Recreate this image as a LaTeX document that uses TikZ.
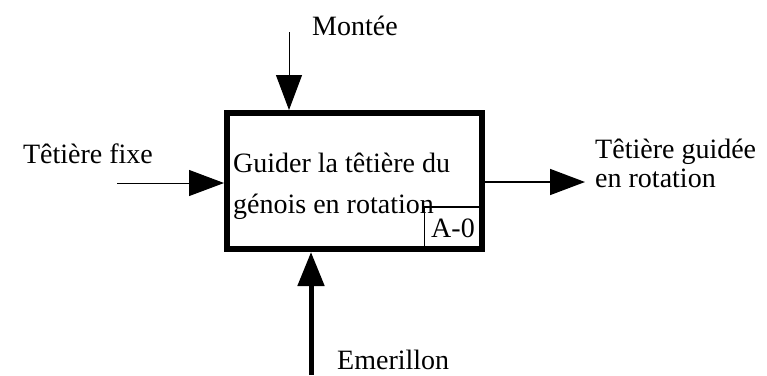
\documentclass[tikz,border=0pt]{standalone}
\usepackage{fontspec}
\setmainfont{Liberation Serif}
\usetikzlibrary{arrows.meta}
\tikzset{
  lbl/.style={inner sep=0pt, font=\fontsize{28}{34}\selectfont},
  mainbox/.style={draw=black, line width=6pt, minimum width=255pt, minimum height=136pt, inner sep=0pt},
  refbox/.style={draw=black, line width=1.2pt, minimum width=57pt, minimum height=42pt, inner sep=0pt, font=\fontsize{28}{34}\selectfont},
  headtip/.style={-{Triangle[length=35pt,width=26pt]}, draw=black, fill=black!85},
}
\begin{document}
\begin{tikzpicture}[x=1pt,y=-1pt]
\useasboundingbox (0,0) rectangle (767,375);
% A-0 reference box (drawn first, thick border covers its edges)
\node[refbox] (a0) at (453,228) {A-0};
% main function box
\node[mainbox] (box) at (354.5,181) {};
% box text
\node[lbl, anchor=base west] (t1) at (233,172) {Guider la têtière du};
\node[lbl, anchor=base west] (t2) at (233,213) {génois en rotation};
% control (top)
\coordinate (ctop) at (289,32);
\draw[headtip, line width=1pt] (ctop) -- (ctop |- box.north);
\node[lbl, anchor=base west] (montee) at (312,35) {Montée};
% input (left)
\coordinate (inl) at (117,183);
\draw[headtip, line width=1pt] (inl) -- (inl -| box.west);
\node[lbl, anchor=base east] (fixe) at (153,163) {Têtière fixe};
% output (right)
\coordinate (outr) at (585,182);
\draw[headtip, line width=1.5pt] (outr -| box.east) -- (outr);
\node[lbl, anchor=base west] (o1) at (595,158) {Têtière guidée};
\node[lbl, anchor=base west] (o2) at (595,187) {en rotation};
% mechanism (bottom)
\coordinate (mech) at (311,375);
\draw[-{Triangle[length=34pt,width=26pt]}, draw=black, fill=black!85, line width=5pt] (mech) -- (mech |- box.south);
\node[lbl, anchor=base west] (emer) at (337,369) {Emerillon};
\end{tikzpicture}
\end{document}
